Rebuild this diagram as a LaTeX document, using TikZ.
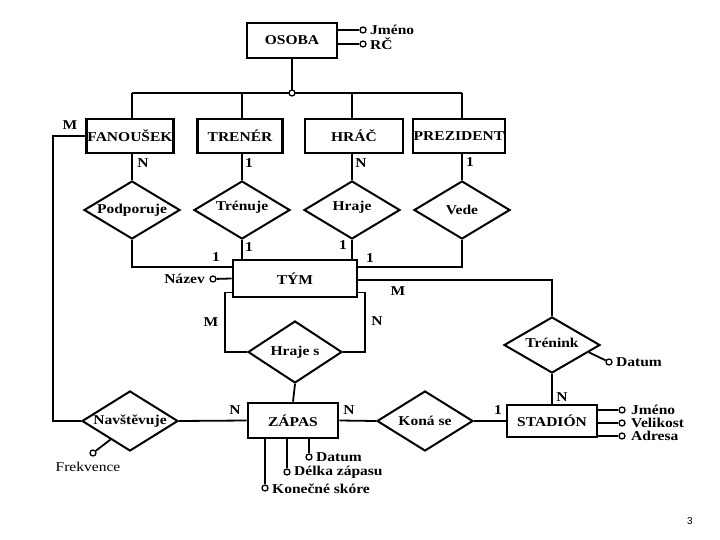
\documentclass[tikz,border=0pt]{standalone}
\usepackage{fontspec}
\setmainfont[FakeStretch=1.15]{Liberation Serif}
\newfontfamily\pgfont{Liberation Sans}
\usetikzlibrary{shapes.geometric,calc}
\tikzset{
  ent/.style={draw,line width=2.6pt,rectangle,minimum height=35pt,inner sep=0pt,font=\bfseries\fontsize{13.5}{15}\selectfont},
  rel/.style={draw,line width=2pt,diamond,aspect=1.65,inner sep=0pt,minimum width=96pt,minimum height=58pt},
  rtxt/.style={font=\bfseries\fontsize{13.5}{15}\selectfont,inner sep=0pt},
  conn/.style={line width=1.8pt},
  dot/.style={circle,draw,fill=white,line width=1.3pt,inner sep=0pt,minimum size=6pt},
  lab/.style={font=\bfseries\fontsize{13.5}{15}\selectfont,inner sep=0pt},
  atxt/.style={font=\bfseries\fontsize{13.5}{15}\selectfont,inner sep=0pt,anchor=west},
}
\begin{document}
\begin{tikzpicture}[x=1pt,y=-1pt]
\useasboundingbox (0,0) rectangle (720,540);
% entities
\node[ent,minimum width=90pt] (osoba) at (292,40.5) {OSOBA};
\node[ent,minimum width=87pt,minimum height=34pt] (fan) at (130,136) {FANOUŠEK};
\node[ent,minimum width=85pt,minimum height=34pt] (tren) at (240,136) {TRENÉR};
\node[ent,minimum width=98pt,minimum height=34pt] (hrac) at (354,136) {HRÁČ};
\node[ent,minimum width=92pt,minimum height=34pt] (prez) at (459,136) {PREZIDENT};
\node[ent,minimum width=124pt,minimum height=37pt] (tym) at (295,278.5) {TÝM};
\node[ent,minimum width=90pt] (zapas) at (293,420.5) {ZÁPAS};
\node[ent,minimum width=90pt,minimum height=32pt] (stadion) at (552,421) {STADIÓN};
% relationships
\node[rel,label={[rtxt]center:Podporuje}] (podp) at (132,210) {};
\node[rel,label={[rtxt,yshift=3pt]center:Trénuje}] (trend) at (242,210) {};
\node[rel,label={[rtxt,yshift=3pt]center:Hraje}] (hraje) at (352,210) {};
\node[rel,label={[rtxt]center:Vede}] (vede) at (462,210) {};
\node[rel,minimum width=94pt,minimum height=62pt,label={[rtxt]center:Hraje s}] (hrajes) at (295,352) {};
\node[rel,minimum height=60pt,label={[rtxt]center:Navštěvuje}] (navst) at (130,421) {};
\node[rel,minimum height=60pt,label={[rtxt]center:Koná se}] (kona) at (425,421) {};
\node[rel,minimum height=56pt,label={[rtxt,yshift=2pt]center:Trénink}] (trenink) at (552,345) {};
% ISA bus
\coordinate (b1) at (132,93);
\coordinate (b2) at (242,93);
\coordinate (b3) at (352,93);
\coordinate (b4) at (462,93);
\coordinate (bj) at (292,93);
\draw[conn] (b1) -- (b4);
\draw[conn] (osoba.south) -- (bj);
\draw[conn] (b1) -- (b1 |- fan.north);
\draw[conn] (b2) -- (b2 |- tren.north);
\draw[conn] (b3) -- (b3 |- hrac.north);
\draw[conn] (b4) -- (b4 |- prez.north);
\node[dot] (jd) at (bj) {};
% entity to relationship
\draw[conn] (b1 |- fan.south) -- (podp.north);
\draw[conn] (b2 |- tren.south) -- (trend.north);
\draw[conn] (b3 |- hrac.south) -- (hraje.north);
\draw[conn] (b4 |- prez.south) -- (vede.north);
\node[lab] at (143,163) {N};
\node[lab] at (249,163) {1};
\node[lab] at (361,163) {N};
\node[lab] at (470,162) {1};
% relationships to TYM
\draw[conn] (podp.south) |- ([yshift=11.5pt]tym.west);
\draw[conn] (vede.south) |- ([yshift=11.5pt]tym.east);
\draw[conn] (trend.south) -- (trend.south |- tym.north);
\draw[conn] (hraje.south) -- (hraje.south |- tym.north);
\node[lab] at (216,257) {1};
\node[lab] at (249,247) {1};
\node[lab] at (343,245) {1};
\node[lab] at (370,258) {1};
% Nazev
\node[dot] (naz) at (213,279) {};
\node[atxt,anchor=east] at (205,279) {Název};
\draw[conn] (tym.west) -- (naz);
% TYM to Trenink
\draw[conn] ([yshift=-1.5pt]tym.east) -| (trenink.north);
\node[lab] at (398,291) {M};
% Hraje s
\draw[conn] ([yshift=-14pt]tym.west) -- ++(-7,0) |- (hrajes.west);
\draw[conn] ([yshift=-14pt]tym.east) -- ++(7,0) |- (hrajes.east);
\node[lab] at (211,322) {M};
\node[lab] at (377,321) {N};
\draw[conn] (hrajes.south) -- (zapas.north);
% Navstevuje
\draw[conn] (zapas.west) -- (navst.east);
\node[lab] at (235,410) {N};
\draw[conn] (navst.west) -- ++(-28,0) |- (fan.west);
\node[lab] at (70,125) {M};
\node[dot] (frk) at (93,453) {};
\draw[conn] ($(navst.west)!0.6!(navst.south)$) -- (frk);
\node[font=\fontsize{13.5}{15}\selectfont,inner sep=0pt] at (88,467) {Frekvence};
% Kona se
\draw[conn] (zapas.east) -- (kona.west);
\node[lab] at (349,410) {N};
\draw[conn] (kona.east) -- (stadion.west);
\node[lab] at (498,410) {1};
% Trenink to Stadion
\draw[conn] (trenink.south) -- (stadion.north);
\node[lab] at (562,397) {N};
\node[dot] (tdat) at (609,362) {};
\draw[conn] ($(trenink.east)!0.25!(trenink.south)$) -- (tdat);
\node[atxt] at (616,362) {Datum};
% OSOBA attributes
\node[dot] (oj) at (363,30) {};
\node[dot] (orc) at (363,44) {};
\draw[conn] (osoba.east |- oj) -- (oj);
\draw[conn] (osoba.east |- orc) -- (orc);
\node[atxt] at (370,30) {Jméno};
\node[atxt] at (370,44) {RČ};
% STADION attributes
\node[dot] (sj) at (622,410) {};
\node[dot] (sv) at (622,423) {};
\node[dot] (sa) at (622,436) {};
\draw[conn] (stadion.east |- sj) -- (sj);
\draw[conn] (stadion.east |- sv) -- (sv);
\draw[conn] (stadion.east |- sa) -- (sa);
\node[atxt] at (631,410) {Jméno};
\node[atxt] at (631,423) {Velikost};
\node[atxt] at (631,436) {Adresa};
% ZAPAS attributes
\node[dot] (zd) at (309,457) {};
\node[dot] (zl) at (287,472) {};
\node[dot] (zk) at (265,488) {};
\draw[conn] (zd |- zapas.south) -- (zd);
\draw[conn] (zl |- zapas.south) -- (zl);
\draw[conn] (zk |- zapas.south) -- (zk);
\node[atxt] at (316,457) {Datum};
\node[atxt] at (294,472) {Délka zápasu};
\node[atxt] at (272,489) {Konečné skóre};
% page number
\node[font=\pgfont\fontsize{10}{12}\selectfont,inner sep=0pt] (pg) at (690,521) {3};
\end{tikzpicture}
\end{document}
